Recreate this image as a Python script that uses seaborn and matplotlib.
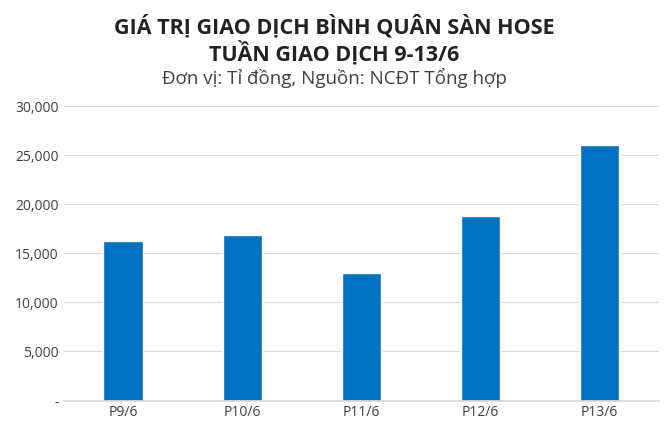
import matplotlib
matplotlib.use("Agg")
import matplotlib.pyplot as plt
import seaborn as sns
import pandas as pd

categories = ["P9/6", "P10/6", "P11/6", "P12/6", "P13/6"]
values = [16300, 16900, 12950, 18750, 26000]
yticks = [0, 5000, 10000, 15000, 20000, 25000, 30000]

sns.set_theme(style="white")
plt.rcParams['font.family'] = ['Open Sans', 'DejaVu Sans']

df = pd.DataFrame({"cat": categories, "val": values})
fig = plt.figure(figsize=(6.69, 4.33), dpi=100)
ax = fig.add_axes([0.095, 0.075, 0.89, 0.68])
sns.barplot(data=df, x="cat", y="val", color="#0070C0", saturation=1, width=0.33, ax=ax)
ax.set_ylim(0, 30000)
ax.set_yticks(yticks)
ax.set_yticklabels(["-" if v == 0 else f"{v:,}" for v in yticks], fontsize=10, color="#404040")
ax.tick_params(axis="x", labelsize=10, labelcolor="#404040", length=0)
ax.tick_params(axis="y", length=0)
ax.grid(axis="y", color="#D9D9D9", linewidth=0.8)
ax.set_axisbelow(True)
for s in ["top", "right", "left"]:
    ax.spines[s].set_visible(False)
ax.spines["bottom"].set_color("#D9D9D9")
ax.set_xlabel("")
ax.set_ylabel("")
fig.text(0.5, 0.965, "GIÁ TRỊ GIAO DỊCH BÌNH QUÂN SÀN HOSE\nTUẦN GIAO DỊCH 9-13/6",
         ha="center", va="top", fontsize=15.5, fontweight="bold", color="#222222", linespacing=1.1)
fig.text(0.5, 0.82, "Đơn vị: Tỉ đồng, Nguồn: NCĐT Tổng hợp", ha="center", va="center",
         fontsize=13.5, color="#404040")
fig.savefig("out.png", dpi=100)
